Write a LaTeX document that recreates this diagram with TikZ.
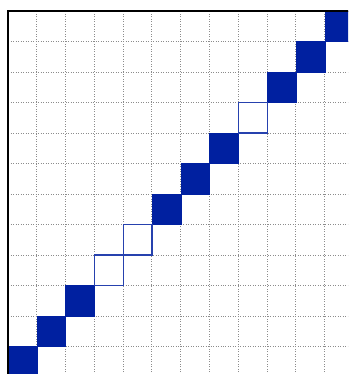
\documentclass[tikz,border=0pt]{standalone}
\usepackage{tikz}
\usepackage{xcolor}
\definecolor{spyblue}{RGB}{0,32,160}

\begin{document}
\begin{tikzpicture}[
    x=28.8pt, y=30.5pt,
    gridline/.style={draw=gray!90, line width=1pt, dash pattern=on 1pt off 1.5pt},
    frameline/.style={draw=black, line width=1.4pt},
    fullcell/.style={fill=spyblue, draw=spyblue, line width=0.5pt},
    emptycell/.style={draw=spyblue!85, line width=1.3pt}
]

% === BOUNDS ===
\useasboundingbox (-0.2778,0.0984) rectangle (11.806,12.361);
\clip (-0.2778,0.0984) rectangle (11.806,12.361);
\fill[white] (-0.2778,0.0984) rectangle (11.806,12.361);

% === GRID ===
\foreach \k in {1,...,11} {
    \draw[gridline] (\k,0) -- (\k,12);
    \draw[gridline] (0,\k) -- (12,\k);
}

% === DIAGONAL ===
\foreach \k in {0,1,2,5,6,7,9,10,11}
    \filldraw[fullcell] (\k,\k) rectangle ++(1,1);
\foreach \k in {3,4,8}
    \draw[emptycell] (\k,\k) rectangle ++(1,1);

% === FRAME ===
\draw[frameline] (0,-1) -- (0,12) -- (13,12);

\end{tikzpicture}
\end{document}
